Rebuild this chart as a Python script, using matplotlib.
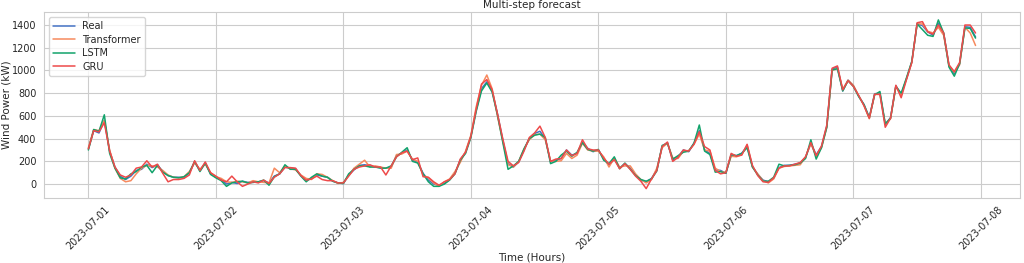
import matplotlib
matplotlib.use("Agg")
import matplotlib.pyplot as plt
import matplotlib.dates as mdates
import seaborn as sns
import pandas as pd

# hourly wind power, 2023-07-01 00:00 .. 2023-07-07 23:00 (kW)
real = [
    310, 470, 450, 560, 290, 150, 70, 40, 70, 120, 130, 175, 145, 170, 110, 75, 60, 60, 55, 100, 195, 120, 185, 90,
    60, 40, 0, 15, 5, 25, 15, 15, 20, 30, 10, 70, 90, 150, 140, 135, 75, 30, 50, 80, 70, 60, 25, 10,
    5, 80, 125, 165, 170, 160, 150, 145, 140, 150, 250, 270, 300, 210, 195, 95, 35, 0, -10, 5, 40, 95, 210, 280,
    420, 650, 840, 900, 820, 620, 390, 180, 150, 195, 300, 400, 445, 465, 400, 195, 210, 225, 300, 255, 270, 370, 315, 285,
    300, 225, 165, 225, 140, 180, 140, 80, 35, 20, 50, 125, 330, 365, 210, 240, 300, 285, 360, 470, 300, 270, 125, 120,
    95, 255, 250, 272, 335, 155, 85, 35, 20, 50, 145, 165, 165, 175, 185, 235, 360, 258, 330, 510, 1010, 1030, 820, 915,
    865, 775, 700, 585, 795, 800, 525, 585, 865, 790, 925, 1075, 1410, 1395, 1340, 1310, 1415, 1325, 1045, 970, 1060, 1385, 1380, 1295]

transformer = [
    320, 480, 470, 560, 300, 140, 50, 20, 30, 90, 140, 165, 160, 150, 120, 80, 60, 55, 65, 110, 185, 130, 175, 100,
    65, 50, 20, 15, 25, 20, 10, 30, 20, 15, 10, 140, 100, 160, 135, 125, 80, 50, 40, 90, 85, 60, 30, 5,
    15, 75, 140, 175, 210, 150, 160, 150, 140, 140, 260, 265, 290, 220, 200, 80, 55, 10, -20, 20, 45, 110, 190, 290,
    430, 680, 870, 960, 840, 600, 380, 170, 150, 200, 310, 390, 435, 440, 390, 205, 200, 205, 270, 225, 255, 360, 300, 290,
    290, 240, 150, 230, 150, 160, 160, 90, 40, 10, 40, 140, 320, 360, 230, 225, 290, 295, 350, 440, 300, 290, 140, 110,
    105, 245, 240, 260, 345, 150, 90, 30, 10, 45, 140, 155, 160, 165, 170, 240, 355, 245, 320, 500, 1000, 1020, 835, 915,
    870, 780, 690, 575, 790, 790, 530, 575, 860, 780, 930, 1070, 1410, 1410, 1345, 1330, 1380, 1310, 1040, 985, 1050, 1380, 1330, 1220]

lstm = [
    300, 480, 465, 610, 270, 140, 55, 45, 90, 110, 150, 165, 100, 165, 105, 75, 60, 55, 65, 100, 200, 110, 185, 85,
    55, 30, -20, 10, 20, 25, 10, 15, 20, 35, -10, 65, 90, 170, 130, 130, 70, 20, 60, 90, 70, 60, 25, 10,
    5, 90, 130, 160, 160, 150, 150, 140, 140, 160, 240, 280, 320, 200, 185, 90, 20, -20, -20, 0, 35, 90, 210, 270,
    410, 640, 820, 890, 810, 610, 370, 130, 160, 200, 310, 400, 430, 440, 410, 180, 200, 255, 290, 245, 280, 365, 305, 290,
    305, 210, 180, 240, 135, 185, 130, 75, 40, 25, 45, 115, 340, 360, 220, 250, 280, 290, 360, 520, 290, 260, 105, 110,
    95, 260, 250, 270, 320, 150, 80, 25, 25, 60, 175, 160, 165, 170, 185, 225, 390, 220, 320, 500, 1005, 1015, 820, 910,
    860, 770, 700, 585, 785, 815, 530, 580, 860, 800, 935, 1080, 1410, 1360, 1310, 1300, 1445, 1330, 1030, 950, 1060, 1375, 1370, 1285]

gru = [
    310, 470, 460, 540, 290, 150, 80, 60, 80, 140, 150, 205, 150, 175, 95, 20, 40, 40, 50, 80, 205, 120, 195, 100,
    70, 35, 20, 70, 20, -20, 0, 20, 10, 35, 5, 60, 90, 145, 145, 140, 75, 35, 45, 70, 40, 30, 30, 10,
    10, 70, 130, 150, 160, 170, 150, 150, 80, 160, 240, 275, 290, 215, 230, 65, 60, 20, -10, 20, 40, 90, 220, 280,
    420, 660, 880, 920, 830, 620, 400, 200, 160, 190, 290, 410, 450, 510, 410, 200, 220, 225, 300, 250, 270, 390, 310, 300,
    300, 230, 175, 215, 135, 180, 130, 70, 25, -40, 45, 120, 330, 370, 200, 235, 300, 290, 350, 460, 330, 300, 120, 90,
    100, 270, 245, 255, 350, 165, 75, 20, 15, 55, 140, 160, 160, 175, 190, 240, 365, 250, 335, 520, 1020, 1040, 830, 910,
    860, 780, 690, 580, 790, 790, 500, 580, 870, 760, 920, 1070, 1420, 1430, 1340, 1320, 1400, 1330, 1050, 990, 1070, 1400, 1400, 1330]

assert len(real) == len(transformer) == len(lstm) == len(gru) == 168

times = pd.date_range("2023-07-01", periods=len(real), freq="h")

sns.set_style("whitegrid")
plt.rcParams["font.family"] = ["DejaVu Sans"]

fig, ax = plt.subplots(figsize=(10.24, 2.63), dpi=100)
fig.subplots_adjust(left=0.043, right=0.996, top=0.954, bottom=0.247)

ax.plot(times, real, color="#4472c4", lw=1.1, label="Real")
ax.plot(times, transformer, color="#f78a5e", lw=1.1, label="Transformer")
ax.plot(times, lstm, color="#12a36b", lw=1.1, label="LSTM")
ax.plot(times, gru, color="#ee4a4a", lw=1.1, label="GRU")

ax.set_ylim(-123, 1514)
ax.xaxis.set_major_locator(mdates.DayLocator())
ax.xaxis.set_major_formatter(mdates.DateFormatter("%Y-%m-%d"))
plt.setp(ax.get_xticklabels(), rotation=45, fontsize=7)
ax.tick_params(axis="y", labelsize=7, pad=2)
ax.tick_params(axis="x", pad=1)
ax.set_yticks([0, 200, 400, 600, 800, 1000, 1200, 1400])

ax.set_title("Multi-step forecast", fontsize=7.5, pad=3)
ax.set_xlabel("Time (Hours)", fontsize=7.5, labelpad=1)
ax.set_ylabel("Wind Power (kW)", fontsize=7.5, labelpad=0)
ax.legend(loc="upper left", fontsize=7, frameon=True, handlelength=2.2,
          borderpad=0.45, labelspacing=0.35)

fig.savefig("out.png", dpi=100, facecolor="white")
